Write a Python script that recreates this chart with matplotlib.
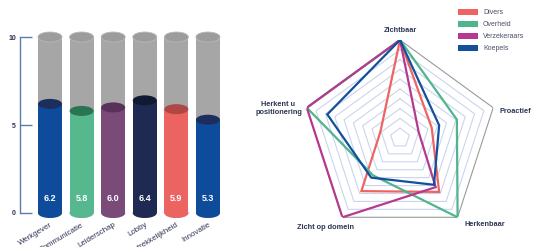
import numpy as np
import matplotlib
matplotlib.use("Agg")
import matplotlib.pyplot as plt
from matplotlib.patches import Ellipse, Rectangle, Patch

plt.rcParams["font.family"] = ["Liberation Sans", "DejaVu Sans"]

# bar chart data
categories = ["Werkgever", "Communicatie", "Leiderschap", "Lobby", "Aantrekkelijkheid", "Innovatie"]
scores = [6.2, 5.8, 6.0, 6.4, 5.9, 5.3]
score_max = 10
y_ticks = [0, 5, 10]
bar_colors = ["#0e4c9b", "#55b88e", "#7a4b78", "#1f2a52", "#ec6461", "#0e4c9b"]
top_colors = ["#1d2d5c", "#2b7452", "#5a3158", "#101a33", "#b04646", "#1d2d5c"]

# radar chart data
radar_axes = ["Zichtbaar", "Proactief", "Herkenbaar", "Zicht op domein", "Herkent u\npositionering"]
divers = [10, 3.4, 6.8, 6.7, 2.1]
overheid = [10, 6.1, 10, 4.7, 10]
verzekeraars = [10, 2.0, 6.2, 10, 10]
koepels = [10, 4.2, 5.9, 5.0, 7.8]
series_names = ["Divers", "Overheid", "Verzekeraars", "Koepels"]
series_colors = ["#ee6461", "#50b58c", "#b53a8f", "#12509e"]

TEXT = "#2d3553"
W, H = 534, 247

fig = plt.figure(figsize=(W / 100, H / 100), dpi=100)

# ---- cylinders ----
ax = fig.add_axes([20 / W, (H - 220) / H, 205 / W, 190 / H])
ax.set_xlim(-0.95, 5.54)
ax.set_ylim(-0.4, 10.4)
bw = 0.76
eh = 0.57
for i, (v, c, tc) in enumerate(zip(scores, bar_colors, top_colors)):
    ax.add_patch(Rectangle((i - bw / 2, 0), bw, score_max, facecolor="#a6a6a6", lw=0, zorder=1))
    ax.add_patch(Ellipse((i, 0), bw, eh, facecolor="#a6a6a6", lw=0, zorder=1))
    ax.add_patch(Ellipse((i, score_max), bw, eh, facecolor="#9b9c9e", edgecolor="#b8b8b8", lw=0.6, zorder=2))
    ax.add_patch(Rectangle((i - bw / 2, 0), bw, v, facecolor=c, lw=0, zorder=3))
    ax.add_patch(Ellipse((i, 0), bw, eh, facecolor=c, lw=0, zorder=3))
    ax.add_patch(Ellipse((i, v), bw, eh, facecolor=tc, lw=0, zorder=4))
    ax.text(i, 0.85, f"{v:.1f}", color="white", fontsize=6.5, fontweight="bold",
            ha="center", va="center", zorder=5)

for s in ["top", "right", "bottom"]:
    ax.spines[s].set_visible(False)
ax.spines["left"].set_bounds(0, score_max)
ax.spines["left"].set_color("#5b7bab")
ax.spines["left"].set_linewidth(1)
ax.set_yticks(y_ticks)
ax.set_yticklabels([str(t) for t in y_ticks], fontsize=5, fontweight="bold", color=TEXT)
ax.tick_params(axis="y", direction="in", length=8.5, width=1, color="#5b7bab", pad=3)
ax.set_xticks(range(len(categories)))
ax.set_xticklabels(categories, rotation=31, ha="right", rotation_mode="anchor",
                   fontsize=5.7, color=TEXT)
ax.tick_params(axis="x", length=0, pad=1)
ax.patch.set_visible(False)

# ---- radar ----
R = 98
cx, cy = 400, 138
rax = fig.add_axes([(cx - R) / W, (H - cy - R) / H, 2 * R / W, 2 * R / H], projection="polar")
rax.set_theta_offset(np.pi / 2)
rax.set_theta_direction(-1)
rax.set_ylim(0, 10)
angles = np.linspace(0, 2 * np.pi, len(radar_axes), endpoint=False)
closed = np.append(angles, angles[0])

for level in range(1, 11):
    col = "#9a9a9a" if level == 10 else "#c9d5ef"
    rax.plot(closed, [level] * len(closed), color=col, lw=0.8, zorder=1)

for name, vals, col in zip(series_names, [divers, overheid, verzekeraars, koepels], series_colors):
    rax.plot(closed, vals + vals[:1], color=col, lw=1.6, zorder=3, solid_joinstyle="miter")

rax.grid(False)
rax.spines["polar"].set_visible(False)
rax.set_xticks([])
rax.set_yticks([])
rax.patch.set_visible(False)

label_offsets = [(0, 6.5, "center"), (4.3, -3, "left"), (5, -5.5, "left"),
                 (-12.5, -7.3, "center"), (-3.5, -0.5, "right")]
for ang, lab, (dx, dy, ha) in zip(angles, radar_axes, label_offsets):
    rax.annotate(lab, xy=(ang, 10), xytext=(dx, dy), textcoords="offset points",
                 ha=ha, va="center", multialignment="center", fontsize=5.3,
                 fontweight="bold", color=TEXT, linespacing=1.3, annotation_clip=False)

handles = [Patch(facecolor=c, edgecolor="none") for c in series_colors]
fig.legend(handles, series_names, loc="upper left", bbox_to_anchor=(458 / W, 1 - 9 / H),
           frameon=False, fontsize=5, labelcolor="#4a4f6a", borderpad=0, borderaxespad=0,
           handlelength=2.9, handleheight=1.0, handletextpad=0.7, labelspacing=0.65)

fig.savefig("out.png", dpi=100)
